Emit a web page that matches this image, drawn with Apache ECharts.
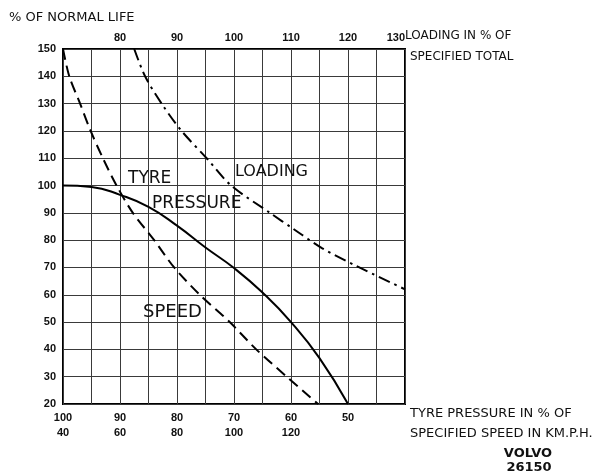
<!DOCTYPE html>
<html>
<head>
<meta charset="utf-8">
<script src="https://cdn.jsdelivr.net/npm/echarts@6/dist/echarts.min.js"></script>
<style>
html,body{margin:0;padding:0;background:#fff;}
#c{width:607px;height:475px;}
</style>
</head>
<body>
<div id="c"></div>
<script>
// ---- data ----
// Tyre pressure curve: [tyre pressure %, % of normal life]
var tyreData = [[100,100],[95,99.5],[90,96.6],[85,92.2],[80,85.3],[75,77.3],[70,69.8],[65,60.8],[60,50],[55,36.8],[50,20]];
// Speed curve: [speed km/h, % of normal life]
var speedData = [[40,150],[42.2,140],[46,130],[49.7,120],[54,110],[58.8,100],[64.5,90],[72,80],[79,70],[88,60],[98.5,50],[107.8,40],[118.5,30],[129.5,20]];
// Loading curve: [loading %, % of normal life]
var loadData = [[82.5,150],[84.4,140],[87.3,130],[90.8,120],[95.2,110],[99.5,100],[106.3,90],[110.5,84],[115.5,77],[121.5,70.5],[130,62]];

var lifeTicks = [20,30,40,50,60,70,80,90,100,110,120,130,140,150];
var tyreTicks = [100,90,80,70,60,50];
var speedTicks = [40,60,80,100,120];
var loadTicks = [80,90,100,110,120,130];

var tickFont = {fontFamily:'Liberation Sans', fontWeight:'bold', fontSize:11, color:'#111'};
var gridLine = {show:true, lineStyle:{color:'#3a3a3a', width:1}};

var chart = echarts.init(document.getElementById('c'), null, {renderer:'canvas'});

function txt(s, x, y, size, opts){
  opts = opts || {};
  return {
    type:'text', x:x, y:y, z:100,
    style:{
      text:s,
      font:(opts.bold?'bold ':'normal ') + size + 'px "DejaVu Sans"',
      fill:'#111',
      textAlign:opts.align||'left', align:opts.align||'left',
      textVerticalAlign:'middle', verticalAlign:'middle'
    }
  };
}

chart.setOption({
  backgroundColor:'#fff',
  animation:false,
  grid:{left:63, top:49, width:342, height:355, show:true, borderColor:'#000', borderWidth:2, backgroundColor:'transparent'},
  xAxis:[
    {type:'value', position:'bottom', min:40, max:100, interval:5, inverse:true,
     axisLine:{show:false}, axisTick:{show:false}, splitLine:gridLine,
     axisLabel:Object.assign({margin:8, formatter:function(v){return tyreTicks.indexOf(v)>=0?String(v):'';}}, tickFont)},
    {type:'value', position:'bottom', offset:15, min:40, max:160, interval:10,
     axisLine:{show:false}, axisTick:{show:false}, splitLine:{show:false},
     axisLabel:Object.assign({margin:8, formatter:function(v){return speedTicks.indexOf(v)>=0?String(v):'';}}, tickFont)},
    {type:'value', position:'top', min:70, max:130, interval:5,
     axisLine:{show:false}, axisTick:{show:false}, splitLine:{show:false},
     axisLabel:Object.assign({margin:6, alignMaxLabel:'right', formatter:function(v){return loadTicks.indexOf(v)>=0?String(v):'';}}, tickFont)}
  ],
  yAxis:[
    {type:'value', min:20, max:150, interval:10,
     axisLine:{show:false}, axisTick:{show:false}, splitLine:gridLine,
     axisLabel:Object.assign({margin:7, formatter:function(v){return lifeTicks.indexOf(v)>=0?String(v):'';}}, tickFont)}
  ],
  series:[
    {name:'Tyre pressure', type:'line', xAxisIndex:0, yAxisIndex:0, data:tyreData, smooth:0.5,
     symbol:'none', lineStyle:{color:'#000', width:2, type:'solid'}, z:5},
    {name:'Speed', type:'line', xAxisIndex:1, yAxisIndex:0, data:speedData, smooth:0.3,
     symbol:'none', lineStyle:{color:'#000', width:2, type:[11,6]}, z:5},
    {name:'Loading', type:'line', xAxisIndex:2, yAxisIndex:0, data:loadData, smooth:0.3,
     symbol:'none', lineStyle:{color:'#000', width:2, type:[12,5,2.5,5]}, z:5}
  ],
  graphic:[
    txt('% OF NORMAL LIFE', 9, 18, 13),
    txt('LOADING IN % OF', 405, 36, 12),
    txt('SPECIFIED TOTAL', 410, 57, 12),
    txt('TYRE PRESSURE IN % OF', 410, 414, 13),
    txt('SPECIFIED SPEED IN KM.P.H.', 410, 434, 13),
    txt('VOLVO', 528, 454, 13, {bold:true, align:'center'}),
    txt('26150', 529, 468, 13, {bold:true, align:'center'}),
    txt('TYRE', 128, 179, 17),
    txt('PRESSURE', 152, 204, 17),
    txt('LOADING', 235, 172, 16),
    txt('SPEED', 143, 312, 18)
  ]
});
</script>
</body>
</html>
